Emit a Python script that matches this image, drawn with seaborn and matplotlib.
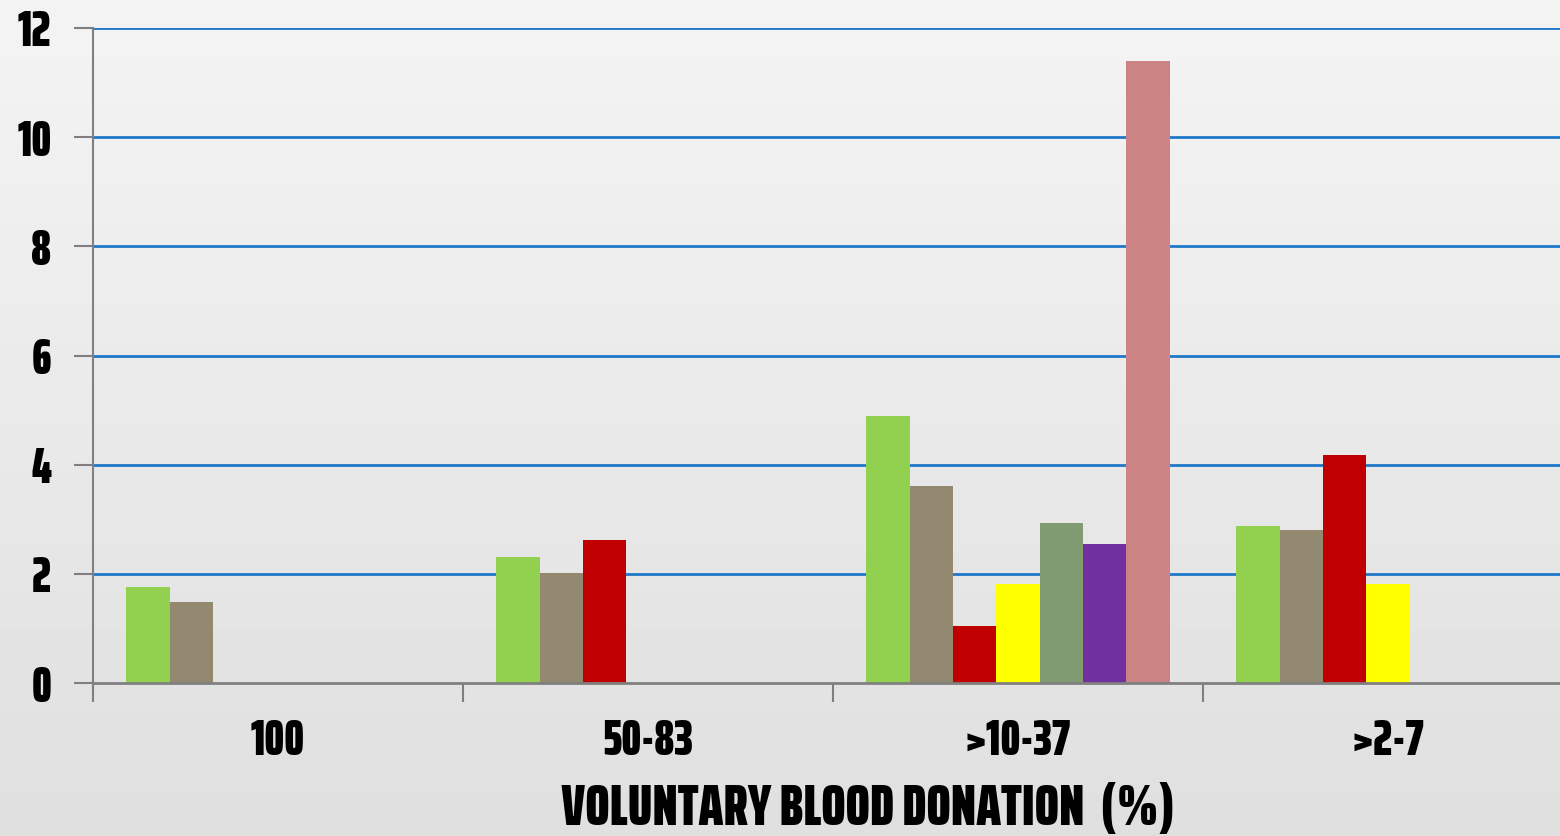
import numpy as np
import pandas as pd
import matplotlib
matplotlib.use("Agg")
import matplotlib.pyplot as plt
import seaborn as sns

categories = ["100", "50-83", ">10-37", ">2-7"]
series_names = ["Series 1", "Series 2", "Series 3", "Series 4", "Series 5", "Series 6", "Series 7"]
series_1 = [1.76, 2.31, 4.89, 2.88]
series_2 = [1.48, 2.01, 3.61, 2.80]
series_3 = [np.nan, 2.62, 1.04, 4.18]
series_4 = [np.nan, np.nan, 1.81, 1.81]
series_5 = [np.nan, np.nan, 2.94, np.nan]
series_6 = [np.nan, np.nan, 2.55, np.nan]
series_7 = [np.nan, np.nan, 11.39, np.nan]
colors = ["#92d050", "#938970", "#c00000", "#ffff00", "#809a71", "#7030a0", "#cc8383"]
y_ticks = [0, 2, 4, 6, 8, 10, 12]
x_title = "VOLUNTARY BLOOD DONATION  (%)"

sns.set_theme(style="white")
fam = "Saira ExtraCondensed"
plt.rcParams["font.family"] = [fam, "Fira Sans Extra Condensed", "DejaVu Sans"]

rows = []
for name, vals in zip(series_names, [series_1, series_2, series_3, series_4, series_5, series_6, series_7]):
    for c, v in zip(categories, vals):
        if not np.isnan(v):
            rows.append({"cat": c, "series": name, "value": v})
df = pd.DataFrame(rows)

fig = plt.figure(figsize=(15.6, 8.36), dpi=100)
bg = fig.add_axes([0, 0, 1, 1], zorder=-10)
grad = np.linspace(0.955, 0.875, 256).reshape(-1, 1)
bg.imshow(grad, aspect="auto", cmap="gray", vmin=0, vmax=1, extent=[0, 1, 0, 1])
bg.set_axis_off()

ax = fig.add_axes([93 / 1560, 1 - 683 / 836, 1 - 93 / 1560, (683 - 28) / 836])
ax.set_facecolor("none")
sns.barplot(data=df, x="cat", y="value", hue="series", order=categories,
            hue_order=series_names, palette=colors, width=0.82, dodge=True,
            saturation=1, legend=False, ax=ax, zorder=3, linewidth=0)

ax.set_ylim(0, 12)
ax.set_xlim(-0.5, 3.465)
ax.set_yticks(y_ticks)
ax.set_yticklabels([str(t) for t in y_ticks])
for t in y_ticks[1:]:
    ax.axhline(t, color="#1f78c8", lw=2.0, zorder=1)

ax.set_xticks([-0.5, 0.5, 1.5, 2.5])
ax.set_xticklabels([])
ax.set_xticks(range(len(categories)), minor=True)
ax.set_xticklabels(categories, minor=True)
ax.tick_params(axis="x", which="major", length=14, width=1.5, color="#7f7f7f", direction="out", bottom=True)
ax.tick_params(axis="x", which="minor", length=0, pad=25, labelsize=36)
ax.tick_params(axis="y", length=14, width=1.5, color="#7f7f7f", direction="out", left=True, pad=16, labelsize=36)
for lab in ax.get_xticklabels(minor=True) + ax.get_yticklabels():
    lab.set_fontweight(900)
    lab.set_color("black")

for s in ["top", "right"]:
    ax.spines[s].set_visible(False)
ax.spines["left"].set_color("#808080")
ax.spines["left"].set_linewidth(1.5)
ax.spines["bottom"].set_color("#808080")
ax.spines["bottom"].set_linewidth(2.0)
ax.spines["bottom"].set_zorder(4)

ax.set_xlabel(x_title, fontsize=42, fontweight=900, color="black")
ax.xaxis.label.set_va("baseline")
ax.xaxis.set_label_coords((868 - 93) / 1467, (683 - 825) / 655)
ax.set_ylabel("")

fig.savefig("out.png", dpi=100)
